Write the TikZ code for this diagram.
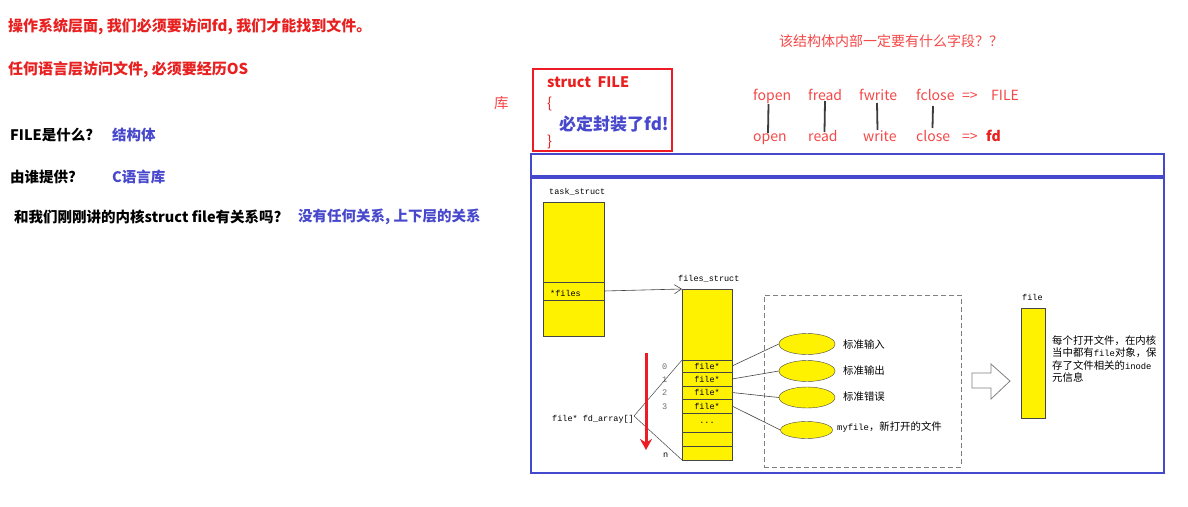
\documentclass[tikz,border=0pt]{standalone}
\usepackage{fontspec}
\newfontfamily\cjk{Noto Sans CJK SC}
\setmonofont{Liberation Mono}[Scale=0.85]
\usetikzlibrary{arrows.meta,shapes.geometric}
\definecolor{txtred}{RGB}{232,32,32}
\definecolor{lred}{RGB}{245,72,72}
\definecolor{txtblue}{RGB}{72,72,205}
\definecolor{frameblue}{RGB}{68,72,204}
\definecolor{boxred}{RGB}{237,28,36}
\definecolor{yel}{RGB}{255,242,0}
\definecolor{edge}{RGB}{70,70,70}
\definecolor{markgray}{RGB}{60,60,60}
\definecolor{idxgray}{RGB}{110,110,110}
\tikzset{
  redl/.style={anchor=west, inner sep=0pt, text=txtred, font=\cjk\bfseries\fontsize{15}{17}\selectfont},
  blk/.style={anchor=west, inner sep=0pt, text=black, font=\cjk\bfseries\fontsize{14.5}{17}\selectfont},
  bluel/.style={anchor=west, inner sep=0pt, text=txtblue, font=\cjk\bfseries\fontsize{14.5}{17}\selectfont},
  pinktxt/.style={anchor=west, inner sep=0pt, text=lred, font=\cjk\fontsize{14}{17}\selectfont},
  calltxt/.style={anchor=base west, inner sep=0pt, text=lred, font=\cjk\fontsize{14}{17}\selectfont},
  monotxt/.style={anchor=west, inner sep=0pt, font=\ttfamily\fontsize{10}{12}\selectfont},
  cjks/.style={anchor=west, inner sep=0pt, font=\cjk\fontsize{10.4}{12.3}\selectfont},
  ybox/.style={rectangle, draw=edge, fill=yel, inner sep=0pt, outer sep=0pt, minimum width=50pt, font=\ttfamily\fontsize{10}{12}\selectfont},
  ell/.style={ellipse, draw=edge, fill=yel, inner sep=0pt, minimum width=56pt, minimum height=21pt},
  conn/.style={draw=edge, line width=0.6pt},
  tickline/.style={draw=markgray, line width=1.8pt},
}
\begin{document}
\begin{tikzpicture}[x=1pt,y=-1pt]
\useasboundingbox (0,0) rectangle (1188,506);
\fill[white] (0,0) rectangle (1188,506);

% left texts
\node[redl] (t1) at (8,27) {操作系统层面, 我们必须要访问fd, 我们才能找到文件。};
\node[redl] (t2) at (8,70) {任何语言层访问文件, 必须要经历OS};
\node[blk] (q1) at (10,135) {FILE是什么?};
\node[bluel] (a1) at (112,135) {结构体};
\node[blk] (q2) at (10,177) {由谁提供?};
\node[bluel] (a2) at (112,177) {C语言库};
\node[blk] (q3) at (14,216.5) {和我们刚刚讲的内核struct file有关系吗?};
\node[bluel] (a3) at (298,216.5) {没有任何关系, 上下层的关系};

% library box
\node[pinktxt, font=\cjk\fontsize{14.5}{17}\selectfont] (ku) at (494,103.5) {库};
\draw[boxred, line width=2pt] (533,69) rectangle (672,151);
\node[redl, font=\cjk\bfseries\fontsize{14.5}{17}\selectfont] (sf) at (547,82) {struct\ \ FILE};
\node[redl, font=\cjk\fontsize{14.5}{17}\selectfont] (lb) at (547,104) {\{};
\node[bluel, font=\cjk\bfseries\fontsize{17}{20}\selectfont] (fd) at (559,124.5) {必定封装了fd!};
\node[redl, font=\cjk\fontsize{14.5}{17}\selectfont] (rb) at (547,142) {\}};

% right heading and calls
\node[pinktxt] (hd) at (779,41) {该结构体内部一定要有什么字段？？};
\node[calltxt] (c1) at (753,100) {fopen};
\node[calltxt] (c2) at (808,100) {fread};
\node[calltxt] (c3) at (859,100) {fwrite};
\node[calltxt] (c4) at (916,100) {fclose};
\node[calltxt] (c5) at (962,100) {=>};
\node[calltxt] (c6) at (991,100) {FILE};
\node[calltxt] (s1) at (753,141.5) {open};
\node[calltxt] (s2) at (808,141.5) {read};
\node[calltxt] (s3) at (863,141.5) {write};
\node[calltxt] (s4) at (916,141.5) {close};
\node[calltxt] (s5) at (962,141.5) {=>};
\node[calltxt, text=txtred, font=\cjk\bfseries\fontsize{14}{17}\selectfont] (s6) at (986,141.5) {fd};
\coordinate (m1a) at (768.5,104); \coordinate (m1b) at (768,133);
\coordinate (m2a) at (825,101); \coordinate (m2b) at (824.5,132);
\coordinate (m3a) at (877,103); \coordinate (m3b) at (877.5,130);
\coordinate (m4a) at (933,106); \coordinate (m4b) at (932.5,128);
\draw[tickline] (m1a) -- (m1b);
\draw[tickline] (m2a) -- (m2b);
\draw[tickline] (m3a) -- (m3b);
\draw[tickline] (m4a) -- (m4b);

% blue frames
\draw[frameblue, line width=2pt] (531,154) rectangle (1164,176);
\draw[frameblue, line width=2pt] (531,178) rectangle (1164,473);

% task_struct
\node[monotxt] (tsl) at (549,191.5) {task\_struct};
\node[ybox, minimum width=61pt, minimum height=80pt] (ts) at (573.5,242) {};
\node[ybox, minimum width=61pt, minimum height=18pt] (tf) at (573.5,291) {};
\node[ybox, minimum width=61pt, minimum height=36pt] (tb) at (573.5,318) {};
\node[monotxt] (tfl) at (550,293.5) {*files};

% files_struct
\node[monotxt] (fsl) at (678,278.5) {files\_struct};
\node[ybox, minimum height=71pt] (fs) at (707,324.5) {};
\node[ybox, minimum height=12pt] (r0) at (707,366) {file*};
\node[ybox, minimum height=14pt] (r1) at (707,379) {file*};
\node[ybox, minimum height=13pt] (r2) at (707,392.5) {file*};
\node[ybox, minimum height=14pt] (r3) at (707,406) {file*};
\node[ybox, minimum height=19pt] (r4) at (707,422.5) {...};
\node[ybox, minimum height=14pt] (r5) at (707,439) {};
\node[ybox, minimum height=14pt] (r6) at (707,453) {};
\draw[conn, -{Straight Barb[length=7pt,width=9pt]}] (tf.east) -- (fs.north west);

% indices
\node[monotxt, text=idxgray] (i0) at (662,367) {0};
\node[monotxt, text=idxgray] (i1) at (662,380) {1};
\node[monotxt, text=idxgray] (i2) at (662,393) {2};
\node[monotxt, text=idxgray] (i3) at (662,407) {3};
\node[monotxt] (in) at (663,455) {n};

% fd_array bracket
\node[monotxt] (fal) at (552,419) {file* fd\_array[]};
\coordinate (fa) at (634,416);
\draw[conn, line width=0.5pt] (fa) -- (r0.north west);
\draw[conn, line width=0.5pt] (fa) -- (r6.south west);

% red arrow
\coordinate (ra1) at (646,353);
\coordinate (ra2) at (646,450);
\draw[boxred, line width=3pt, -{Stealth[length=11pt,width=12pt]}] (ra1) -- (ra2);

% dashed region
\node[draw=gray, dash pattern=on 5pt off 3pt, line width=1pt, minimum width=197pt, minimum height=172pt, inner sep=0pt] (dr) at (862.5,381) {};
\node[ell] (e1) at (807,344) {};
\node[ell] (e2) at (807,371) {};
\node[ell] (e3) at (807,397.5) {};
\node[ell, minimum width=52pt, minimum height=17pt] (e4) at (806.5,430) {};
\node[cjks] (l1) at (843,345) {标准输入};
\node[cjks] (l2) at (843,371) {标准输出};
\node[cjks] (l3) at (843,397) {标准错误};
\node[cjks] (l4) at (837,427.5) {\texttt{myfile}，新打开的文件};
\draw[conn] (r0.east) -- (e1.west);
\draw[conn] (r1.east) -- (e2.west);
\draw[conn] (r2.east) -- (e3.west);
\draw[conn] (r3.east) -- (e4.west);

% block arrow
\draw[gray, line width=0.8pt, fill=white] (972,373) -- (991,373) -- (991,364) -- (1010,381) -- (991,399) -- (991,388) -- (972,388) -- cycle;

% file object
\node[monotxt] (fl) at (1022,297) {file};
\node[ybox, minimum width=24pt, minimum height=110pt] (fb) at (1033,363) {};
\node[cjks, align=left] (fdesc) at (1052,359) {每个打开文件，在内核\\当中都有\texttt{file}对象，保\\存了文件相关的\texttt{inode}\\元信息};
\end{tikzpicture}
\end{document}
